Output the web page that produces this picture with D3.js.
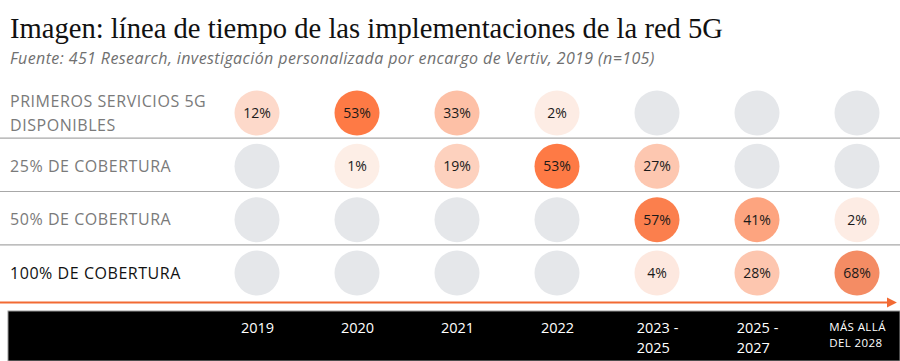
<!DOCTYPE html>
<html>
<head>
<meta charset="utf-8">
<script src="https://cdn.jsdelivr.net/npm/d3@7"></script>
<style>
  body { margin: 0; background: #fff; }
  svg { display: block; }
  .lbl { font-family: "Open Sans", Roboto, sans-serif; }
</style>
</head>
<body>
<svg width="900" height="361"></svg>
<script>
// data
var periods = ["2019", "2020", "2021", "2022", "2023-2025", "2025-2027", "2028+"];
var periodLabels = [["2019"], ["2020"], ["2021"], ["2022"], ["2023 -", "2025"], ["2025 -", "2027"], ["MÁS ALLÁ", "DEL 2028"]];
var milestones = ["PRIMEROS SERVICIOS 5G|DISPONIBLES", "25% DE COBERTURA", "50% DE COBERTURA", "100% DE COBERTURA"];
var firstServices = [12, 53, 33, 2, null, null, null];
var coverage25 = [null, 1, 19, 53, 27, null, null];
var coverage50 = [null, null, null, null, 57, 41, 2];
var coverage100 = [null, null, null, null, 4, 28, 68];
var series = [firstServices, coverage25, coverage50, coverage100];

var svg = d3.select("svg"),
    width = +svg.attr("width"),
    height = +svg.attr("height");

var x = d3.scalePoint().domain(periods).range([257, 857]);
var y = d3.scalePoint().domain(milestones).range([113, 273]);
var color = d3.scaleLinear()
    .domain([0, 12, 33, 53, 68])
    .range(["#fdf0e9", "#fdd9ca", "#fdc0a6", "#fe7a45", "#f48c64"])
    .clamp(true);

// title
svg.append("text")
    .attr("x", 10).attr("y", 38)
    .style("font-family", "'Liberation Serif', serif")
    .style("font-size", "28.6px")
    .attr("fill", "#111")
    .text("Imagen: línea de tiempo de las implementaciones de la red 5G");

svg.append("text")
    .attr("class", "lbl")
    .attr("x", 10).attr("y", 64)
    .style("font-size", "16px")
    .style("letter-spacing", "0.4px")
    .style("font-style", "italic")
    .attr("fill", "#707070")
    .text("Fuente: 451 Research, investigación personalizada por encargo de Vertiv, 2019 (n=105)");

// row separators
var step = y.step();
svg.selectAll(".sep")
    .data(milestones.slice(0, -1))
    .enter().append("line")
    .attr("x1", 0).attr("x2", width)
    .attr("y1", function (d) { return y(d) + step / 2 - 1.5; })
    .attr("y2", function (d) { return y(d) + step / 2 - 1.5; })
    .attr("stroke", "#a8a8a8")
    .attr("stroke-width", 1.2);

// row labels
var rowLabels = svg.selectAll(".rowlbl")
    .data(milestones)
    .enter().append("text")
    .attr("class", "lbl")
    .style("font-size", "16px")
    .style("letter-spacing", "0.55px")
    .attr("fill", function (d, i) { return i == milestones.length - 1 ? "#111" : "#7a7a7a"; });

rowLabels.each(function (d) {
    var lines = d.split("|");
    var t = d3.select(this);
    lines.forEach(function (l, j) {
        t.append("tspan")
            .attr("x", 10)
            .attr("y", y(d) + 5.5 + (j - (lines.length - 1) / 2) * 24)
            .text(l);
    });
});

// circles
var cells = [];
series.forEach(function (vals, r) {
    vals.forEach(function (v, c) {
        cells.push({ row: milestones[r], period: periods[c], value: v });
    });
});

var g = svg.selectAll(".cell")
    .data(cells)
    .enter().append("g")
    .attr("transform", function (d) { return "translate(" + x(d.period) + "," + y(d.row) + ")"; });

g.append("circle")
    .attr("r", 22.5)
    .attr("fill", function (d) { return d.value == null ? "#e5e7ea" : color(d.value); });

g.filter(function (d) { return d.value != null; })
    .append("text")
    .attr("class", "lbl")
    .attr("text-anchor", "middle")
    .attr("dy", "0.35em")
    .style("font-size", "14px")
    .attr("fill", "#1a1a1a")
    .text(function (d) { return d.value + "%"; });

// arrow
var defs = svg.append("defs");
defs.append("marker")
    .attr("id", "arrow")
    .attr("viewBox", "0 0 10 10")
    .attr("refX", 0).attr("refY", 5)
    .attr("markerWidth", 4.5).attr("markerHeight", 5)
    .attr("markerUnits", "strokeWidth")
    .attr("orient", "auto")
    .append("path")
    .attr("d", "M0,0L10,5L0,10Z")
    .attr("fill", "#f26a33");

svg.append("line")
    .attr("x1", 0).attr("x2", 887)
    .attr("y1", 302.5).attr("y2", 302.5)
    .attr("stroke", "#f26a33")
    .attr("stroke-width", 2.2)
    .attr("marker-end", "url(#arrow)");

// bottom band
svg.append("rect")
    .attr("x", 8).attr("y", 311)
    .attr("width", width - 8).attr("height", height - 311)
    .attr("fill", "#000")
    .attr("stroke", "#9a9a9a")
    .attr("stroke-width", 1);

var axis = svg.append("g")
    .attr("transform", "translate(0,320)")
    .call(d3.axisBottom(x).tickSize(0).tickFormat(""));
axis.select(".domain").remove();

axis.selectAll(".tick").each(function (d, i) {
    var lines = periodLabels[i];
    var small = lines[0].length > 6;
    var t = d3.select(this).append("text")
        .attr("class", "lbl")
        .attr("fill", "#fff")
        .style("font-size", small ? "11.5px" : "14.5px")
        .style("letter-spacing", small ? "0.4px" : "0px")
        .attr("text-anchor", lines.length > 1 ? "start" : "middle");
    var first = t.append("tspan").attr("x", 0).attr("y", small ? 11 : 13).text(lines[0]);
    if (lines.length > 1) {
        var w = first.node().getComputedTextLength();
        first.attr("x", -w / 2);
        t.append("tspan").attr("x", -w / 2).attr("y", small ? 27 : 33).text(lines[1]);
    }
});
</script>
</body>
</html>
